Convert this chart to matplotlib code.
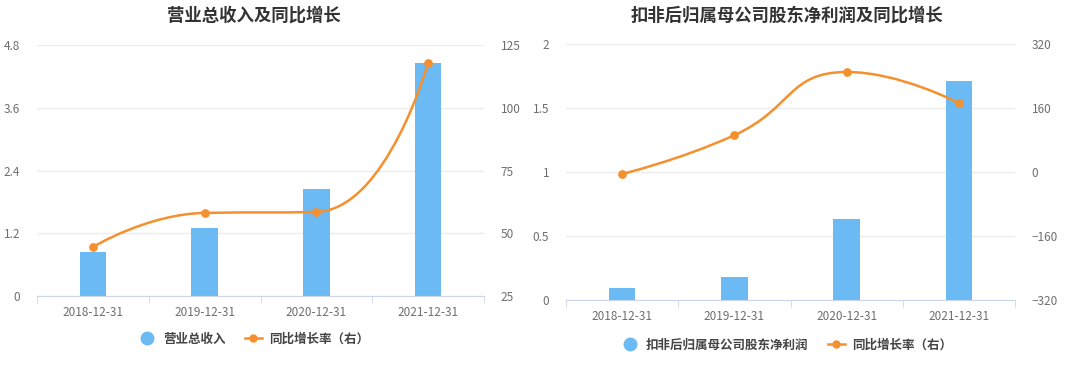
import matplotlib
matplotlib.use("Agg")
import matplotlib.pyplot as plt
from matplotlib.path import Path
from matplotlib.patches import PathPatch
from matplotlib.lines import Line2D
import numpy as np

plt.rcParams['font.family'] = ['Noto Sans CJK SC', 'DejaVu Sans']

years = ['2018-12-31', '2019-12-31', '2020-12-31', '2021-12-31']

# left chart: revenue and yoy growth
revenue = [0.84, 1.30, 2.05, 4.46]
revenue_yoy = [44.5, 58.1, 58.5, 117.8]

# right chart: net profit (deducted) and yoy growth
profit = [0.09, 0.18, 0.63, 1.71]
profit_yoy = [-5, 92, 250, 172]

BAR_C = '#6cbaf3'
LINE_C = '#f5902f'
TICK_C = '#6e6e6e'
GRID_C = '#ececec'
AXIS_C = '#ccd6eb'


def smooth_path(pts, smooth=0.5):
    # echarts style bezier smoothing, pts in pixel space
    n = len(pts)
    verts = [pts[0]]
    codes = [Path.MOVETO]
    cp0 = pts[0]
    for i in range(1, n):
        x, y = pts[i]
        if i < n - 1:
            px, py = pts[i - 1]
            nx, ny = pts[i + 1]
            vx, vy = nx - px, ny - py
            lp = np.hypot(x - px, y - py)
            ln = np.hypot(nx - x, ny - y)
            r = ln / (ln + lp)
            c1x = x + vx * smooth * r
            c1y = y + vy * smooth * r
            c1x = min(c1x, max(nx, x)); c1x = max(c1x, min(nx, x))
            c1y = min(c1y, max(ny, y)); c1y = max(c1y, min(ny, y))
            vx, vy = c1x - x, c1y - y
            c0x = x - vx * lp / ln
            c0y = y - vy * lp / ln
            c0x = min(c0x, max(px, x)); c0x = max(c0x, min(px, x))
            c0y = min(c0y, max(py, y)); c0y = max(c0y, min(py, y))
            vx, vy = x - c0x, y - c0y
            c1x = x + vx * ln / lp
            c1y = y + vy * ln / lp
            ncp0, ncp1 = (c0x, c0y), (c1x, c1y)
        else:
            ncp0, ncp1 = (x, y), (x, y)
        verts += [cp0, ncp0, (x, y)]
        codes += [Path.CURVE4] * 3
        cp0 = ncp1
    return verts, codes


def make_chart(fig, rect, title, title_x, bars, line, ylim, yticks, yticklabels,
               y2lim, y2ticks, bar_label, legend_pos):
    ax = fig.add_axes(rect)
    ax2 = ax.twinx()
    x = np.arange(len(years))
    ax.bar(x, bars, width=0.235, color=BAR_C, zorder=2)
    ax.set_xlim(-0.5, len(years) - 0.5)
    ax.set_ylim(*ylim)
    ax.set_yticks(yticks)
    ax.set_yticklabels(yticklabels)
    ax.yaxis.grid(True, color=GRID_C, linewidth=1)
    ax.set_axisbelow(True)
    ax.set_xticks(x)
    ax.set_xticklabels(years)
    ax.set_xticks(np.arange(-0.5, len(years)), minor=True)
    ax.tick_params(axis='x', which='major', length=0, pad=7, labelsize=8.5, labelcolor=TICK_C)
    ax.tick_params(axis='x', which='minor', length=5, color=AXIS_C)
    ax.tick_params(axis='y', length=0, pad=12, labelsize=8.5, labelcolor=TICK_C)
    for s in ['top', 'left', 'right']:
        ax.spines[s].set_visible(False)
        ax2.spines[s].set_visible(False)
    ax.spines['bottom'].set_color(AXIS_C)
    ax2.spines['bottom'].set_visible(False)

    ax2.set_ylim(*y2lim)
    ax2.set_yticks(y2ticks)
    ax2.tick_params(axis='y', length=0, pad=12, labelsize=8.5, labelcolor=TICK_C)

    # smoothed line in pixel space
    pix = ax2.transData.transform(np.column_stack([x, line]))
    verts, codes = smooth_path([tuple(p) for p in pix])
    verts = ax2.transData.inverted().transform(np.array(verts))
    ax2.add_patch(PathPatch(Path(verts, codes), facecolor='none', edgecolor=LINE_C,
                            linewidth=1.8, zorder=3))
    ax2.scatter(x, line, s=28, color=LINE_C, zorder=4)

    fig.text(title_x, 0.958, title, ha='center', va='center', fontsize=12.5,
             fontweight='bold', color='#333333')

    handles = [
        Line2D([], [], marker='o', linestyle='none', markersize=9, color=BAR_C),
        Line2D([], [], marker='o', linestyle='-', markersize=5, color=LINE_C, linewidth=1.8),
    ]
    fig.legend(handles, [bar_label, '同比增长率（右）'], loc='center', bbox_to_anchor=legend_pos,
               ncol=2, frameon=False, handlelength=1.3, handletextpad=0.6,
               columnspacing=1.6, labelcolor='#444444', prop={'weight': 'bold', 'size': 9})
    return ax, ax2


fig = plt.figure(figsize=(10.8, 3.76), dpi=100)

make_chart(fig, [37 / 1080, 1 - 296 / 376, 447 / 1080, 251 / 376],
           '营业总收入及同比增长', 254 / 1080,
           revenue, revenue_yoy, (0, 4.8), [0, 1.2, 2.4, 3.6, 4.8],
           ['0', '1.2', '2.4', '3.6', '4.8'],
           (25, 125), [25, 50, 75, 100, 125], '营业总收入', (254 / 1080, 1 - 339 / 376))

make_chart(fig, [566 / 1080, 1 - 300 / 376, 449 / 1080, 256 / 376],
           '扣非后归属母公司股东净利润及同比增长', 787 / 1080,
           profit, profit_yoy, (0, 2), [0, 0.5, 1, 1.5, 2],
           ['0', '0.5', '1', '1.5', '2'],
           (-320, 320), [-320, -160, 0, 160, 320], '扣非后归属母公司股东净利润',
           (787 / 1080, 1 - 345 / 376))

fig.savefig('out.png', dpi=100, facecolor='white')
